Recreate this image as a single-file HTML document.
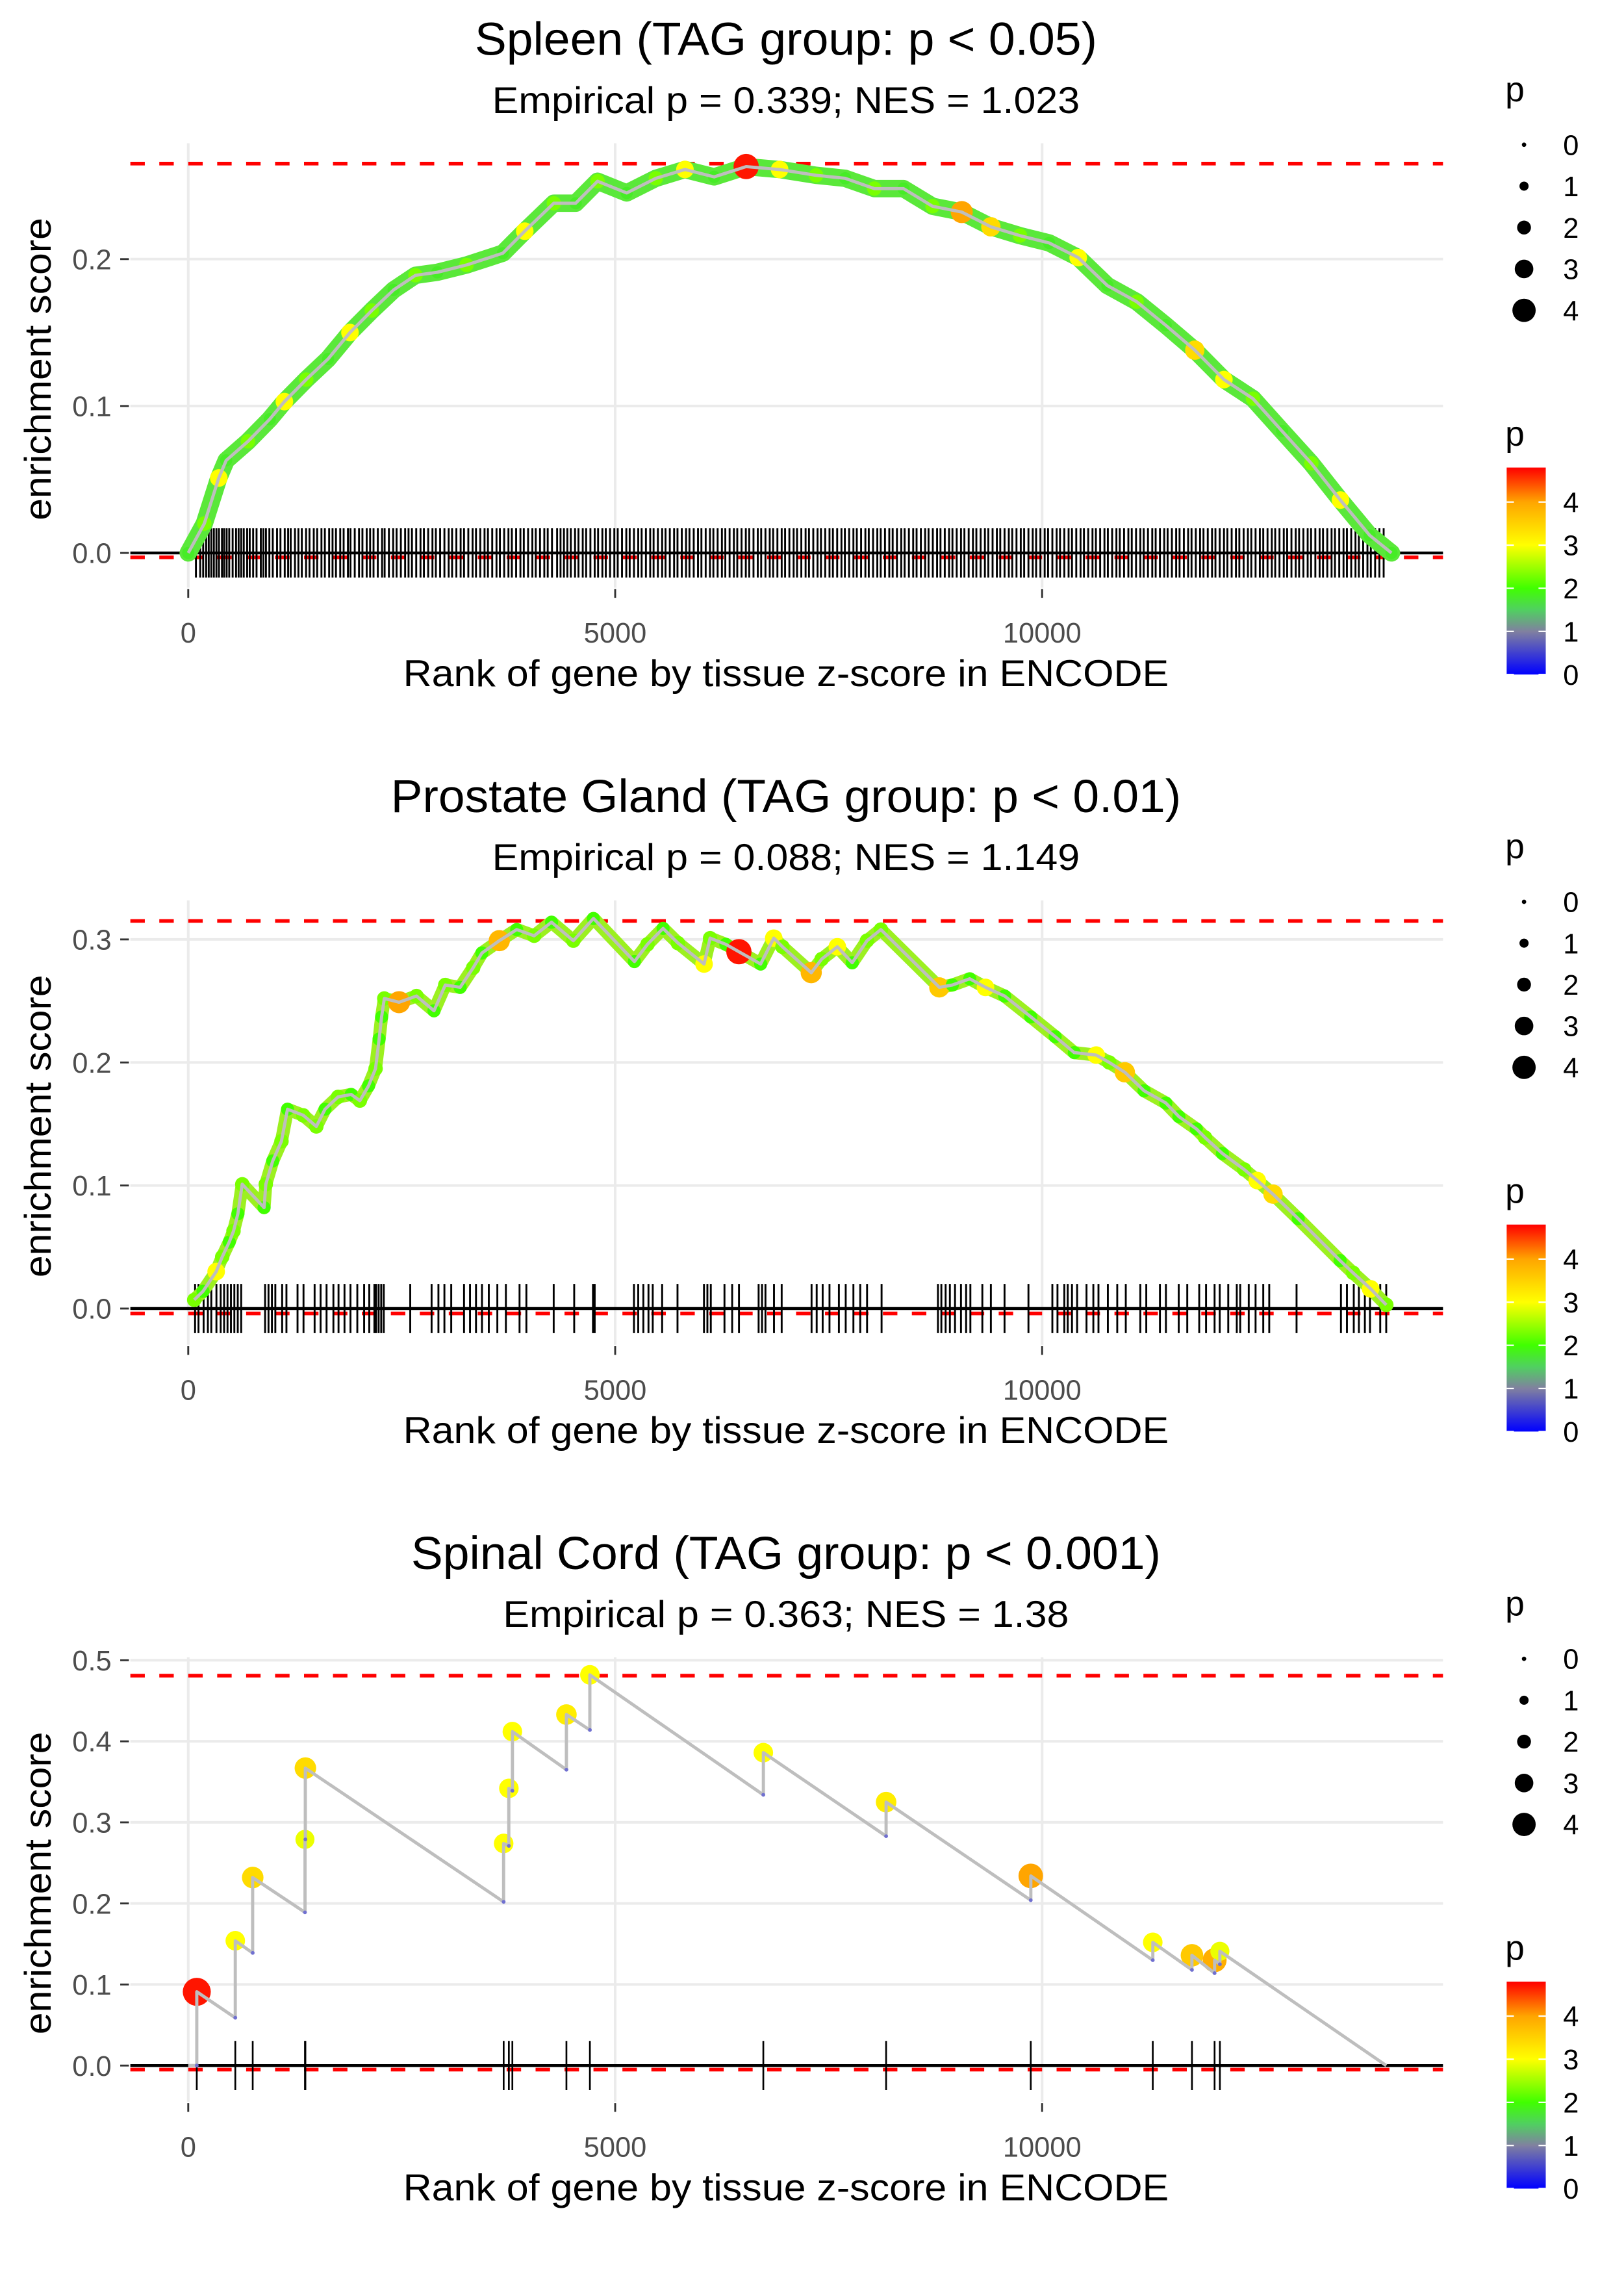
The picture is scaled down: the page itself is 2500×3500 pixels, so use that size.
<!DOCTYPE html>
<html><head><meta charset="utf-8"><style>
html,body{margin:0;padding:0;background:#fff;}
svg{display:block;font-family:"Liberation Sans",Arial,sans-serif;}
</style></head><body>
<svg id="chart" xmlns="http://www.w3.org/2000/svg" width="2500" height="3500" viewBox="0 0 1122 1571"></svg>
<script>
// ---------- Panel 1: Spleen ----------
const ranks1 = [0,188,358,444,700,955,1126,1382,1638,1894,2150,2405,2661,2917,3258,3685,3941,4282,4538,4794,5135,5476,5817,6159,6534,6926,7353,7694,8035,8377,8717,9059,9400,9741,10082,10423,10765,11106,11447,11788,12129,12470,12811,13153,13494,13835,14092];
const es1 = [0,0.020,0.051,0.063,0.076,0.091,0.103,0.118,0.132,0.150,0.165,0.179,0.189,0.191,0.196,0.204,0.219,0.238,0.238,0.253,0.245,0.255,0.261,0.256,0.263,0.261,0.257,0.255,0.248,0.248,0.236,0.232,0.222,0.216,0.211,0.201,0.182,0.171,0.155,0.138,0.118,0.105,0.083,0.061,0.036,0.012,0.0];
const p1 = [1.8,2.3,3.0,1.8,2.3,1.8,3.0,2.3,1.8,3.0,2.3,1.8,2.3,1.8,2.3,1.8,3.0,2.3,1.8,2.3,1.8,2.3,3.0,1.8,4.7,3.0,2.3,1.8,2.3,1.8,2.3,4.0,3.4,2.3,1.8,3.0,1.8,2.3,1.8,3.4,3.0,2.3,1.8,2.3,3.0,1.8,1.8];
const rug1 = [90,140,175,210,240,270,300,330,360,395,420,450,480,520,560,590,620,650,690,720,760,800,850,880,910,950,990,1040,1080,1130,1170,1200,1250,1290,1330,1380,1420,1470,1510,1560,1600,1650,1690,1730,1780,1820,1870,1900,1950,2000,2040,2090,2130,2170,2220,2270,2300,2350,2400,2440,2490,2540,2580,2620,2670,2720,2760,2810,2860,2900,2950,3000,3050,3090,3140,3190,3230,3280,3330,3370,3420,3470,3510,3560,3610,3650,3700,3750,3790,3840,3890,3930,3980,4030,4070,4120,4170,4210,4260,4320,4360,4400,4440,4480,4530,4570,4620,4660,4710,4760,4800,4850,4890,4940,4990,5030,5080,5130,5170,5220,5270,5310,5360,5410,5450,5500,5550,5590,5640,5690,5730,5780,5830,5870,5920,5970,6010,6060,6110,6150,6200,6250,6290,6340,6390,6430,6480,6530,6570,6620,6670,6710,6760,6810,6850,6900,6950,6990,7040,7090,7130,7180,7230,7270,7320,7370,7410,7460,7510,7550,7600,7650,7690,7740,7790,7830,7880,7930,7970,8020,8070,8110,8160,8210,8250,8300,8350,8390,8440,8490,8530,8580,8630,8670,8720,8770,8810,8860,8910,8950,9000,9050,9090,9140,9190,9230,9280,9330,9370,9420,9470,9510,9560,9610,9650,9700,9750,9790,9840,9890,9930,9980,10030,10070,10120,10170,10210,10260,10310,10350,10400,10450,10490,10540,10590,10630,10680,10730,10770,10820,10870,10910,10960,11010,11050,11100,11150,11190,11240,11290,11330,11380,11430,11470,11520,11570,11610,11660,11710,11750,11800,11850,11890,11940,11990,12030,12080,12130,12170,12220,12270,12310,12360,12410,12450,12500,12550,12590,12640,12690,12730,12780,12830,12870,12920,12970,13010,13060,13110,13150,13200,13250,13290,13340,13390,13430,13480,13530,13570,13620,13670,13710,13760,13810,13850,13900,13950,14000];

// ---------- Panel 2: Prostate Gland ----------
const ranks2 = [70,173,327,398,480,530,582,633,888,908,990,1092,1163,1347,1500,1602,1755,1908,2010,2112,2194,2235,2265,2296,2469,2673,2878,3010,3184,3337,3439,3643,3847,4051,4255,4510,4745,5225,5378,5561,5735,6041,6112,6296,6449,6704,6857,6959,7296,7418,7602,7776,7949,8112,8796,8949,9153,9337,9561,9867,10153,10377,10633,10786,10969,11194,11449,11602,11806,11908,12112,12367,12520,12704,13000,13490,13643,13847,14031];
const es2 = [0.007,0.014,0.030,0.042,0.054,0.063,0.077,0.101,0.082,0.101,0.120,0.136,0.162,0.157,0.148,0.162,0.172,0.174,0.169,0.181,0.195,0.219,0.237,0.252,0.249,0.254,0.242,0.263,0.261,0.277,0.289,0.299,0.308,0.303,0.314,0.299,0.317,0.282,0.296,0.309,0.297,0.280,0.301,0.296,0.290,0.280,0.301,0.294,0.273,0.284,0.294,0.281,0.299,0.308,0.261,0.263,0.268,0.261,0.254,0.237,0.221,0.208,0.206,0.200,0.192,0.177,0.167,0.156,0.146,0.139,0.126,0.113,0.104,0.093,0.073,0.039,0.029,0.016,0.003];
const p2 = [2.3,2.0,3.0,2.3,2.0,2.3,2.0,2.3,2.0,2.3,2.0,2.3,2.0,2.3,2.3,2.0,2.3,2.0,2.3,2.0,2.3,2.0,2.0,2.3,4.0,2.3,2.0,2.3,2.0,2.3,2.0,3.8,2.0,2.3,2.0,2.3,2.0,2.0,2.3,2.0,2.3,3.0,2.3,2.0,4.7,2.0,3.0,2.3,3.8,2.3,3.0,2.0,2.3,2.3,3.6,2.0,2.0,3.0,2.0,2.0,2.0,2.0,3.0,2.3,3.6,2.0,2.0,2.0,2.0,2.3,2.0,2.3,3.0,3.4,2.0,2.0,2.3,3.0,2.3];
const rug2 = [80,120,180,230,270,330,380,420,460,500,540,580,620,900,940,980,1020,1100,1150,1280,1350,1480,1550,1620,1700,1760,1830,1900,1980,2060,2120,2180,2200,2230,2260,2290,2600,2850,2930,3000,3080,3230,3300,3370,3440,3520,3620,3720,3880,3960,4280,4520,4740,4760,5220,5270,5330,5390,5440,5550,5730,6040,6080,6120,6280,6370,6450,6680,6720,6760,6860,6950,7300,7360,7430,7510,7620,7700,7790,7870,7950,8120,8780,8820,8870,8920,8980,9050,9110,9160,9300,9400,9560,9840,10120,10180,10260,10300,10350,10410,10520,10600,10660,10770,10880,10980,11150,11220,11380,11450,11600,11700,11840,11920,12020,12080,12180,12280,12320,12420,12500,12590,12660,12980,13500,13570,13650,13710,13780,13840,13960,14030];

// ---------- Panel 3: Spinal Cord ----------
const ranks3 = [100,551,755,1367,1372,3694,3755,3796,4429,4704,6735,8173,9867,11296,11755,12020,12082];
const before3 = [0,0.059,0.139,0.189,0.279,0.202,0.271,0.339,0.365,0.414,0.334,0.283,0.204,0.130,0.118,0.114,0.125];
const after3 = [0.091,0.154,0.232,0.279,0.367,0.274,0.342,0.412,0.433,0.482,0.386,0.325,0.234,0.152,0.136,0.130,0.141];
const p3 = [4.7,3.0,3.4,2.9,3.4,3.0,3.0,3.0,3.2,3.0,3.0,3.2,4.0,3.0,3.6,3.9,2.9];
const endRank3 = 14031;

// ---------- shared ----------
const xTicks = [0,5000,10000];
const legendSizes = [0,1,2,3,4];
const legendColorTicks = [0,1,2,3,4];

const NS = "http://www.w3.org/2000/svg";
const svg = document.getElementById('chart');
function mk(tag, attrs, parent){ const e=document.createElementNS(NS,tag); for(const k in attrs) e.setAttribute(k,attrs[k]); (parent||svg).appendChild(e); return e; }

const stops = [[0,[0,0,255]],[1,[128,128,160]],[1.5,[80,208,96]],[2,[64,255,0]],[3,[255,255,0]],[4,[255,165,0]],[4.8,[255,0,0]]];
function pColor(p){
  if(p<=stops[0][0]) return 'rgb('+stops[0][1].join(',')+')';
  for(let i=1;i<stops.length;i++){
    if(p<=stops[i][0]){
      const a=stops[i-1], b=stops[i], t=(p-a[0])/(b[0]-a[0]);
      const c=a[1].map((v,j)=>Math.round(v+(b[1][j]-v)*t));
      return 'rgb('+c.join(',')+')';
    }
  }
  return 'rgb(255,0,0)';
}
function pRadius(p){ return 1.6 + 1.72*p; }

const X0 = 130, XPER = 295/5000, PL = 90, PR = 997;
function xs(r){ return X0 + r*XPER; }

const panels = [
  {off:0, y0:382, per:1015, yticks:[0,0.1,0.2], esMax:0.265, esMin:-0.003,
   title:"Spleen (TAG group: p < 0.05)", tl:430, sub:"Empirical p = 0.339; NES = 1.023", sl:406, name:'spleen'},
  {off:523, y0:904, per:850, yticks:[0,0.1,0.2,0.3], esMax:0.315, esMin:-0.004,
   title:"Prostate Gland (TAG group: p < 0.01)", tl:546, sub:"Empirical p = 0.088; NES = 1.149", sl:406, name:'prostate'},
  {off:1046, y0:1427, per:560, yticks:[0,0.1,0.2,0.3,0.4,0.5], esMax:0.481, esMin:-0.005,
   title:"Spinal Cord (TAG group: p < 0.001)", tl:518, sub:"Empirical p = 0.363; NES = 1.38", sl:391, name:'spinal-cord'}
];

const defs = mk('defs',{});
const grad = mk('linearGradient',{id:'pgrad',x1:'0',y1:'1',x2:'0',y2:'0'},defs);
stops.forEach(s=>{ mk('stop',{offset:(s[0]/4.8).toFixed(3),'stop-color':'rgb('+s[1].join(',')+')'},grad); });

panels.forEach((P,pi)=>{
  const g = mk('g',{});
  
  
  const ys = v => P.y0 - v*P.per;
  const top = 99+P.off, bot = 406+P.off;
  P.yticks.forEach(t=>{
    const l = mk('line',{x1:PL,x2:PR,y1:ys(t),y2:ys(t),stroke:'#ebebeb','stroke-width':1.8},g);
    
    
  });
  xTicks.forEach(t=>{
    const l = mk('line',{x1:xs(t),x2:xs(t),y1:top,y2:bot,stroke:'#ebebeb','stroke-width':1.8},g);
    
    
  });
  P.yticks.forEach(t=>{
    const tk = mk('line',{x1:83,x2:89,y1:ys(t),y2:ys(t),stroke:'#333','stroke-width':1.3},g);
    
    
    const tx = mk('text',{x:77,y:ys(t)+7,'text-anchor':'end','font-size':19.5,fill:'#4d4d4d'},g);
    tx.textContent = t.toFixed(1);
    
    
  });
  xTicks.forEach(t=>{
    const tk = mk('line',{x1:xs(t),x2:xs(t),y1:bot+1,y2:bot+7,stroke:'#333','stroke-width':1.3},g);
    
    
    const tx = mk('text',{x:xs(t),y:444+P.off,'text-anchor':'middle','font-size':19.5,fill:'#4d4d4d'},g);
    tx.textContent = String(t);
    
    
  });
  const ti = mk('text',{x:543,y:38+P.off,'text-anchor':'middle','font-size':32,fill:'#000',textLength:P.tl,lengthAdjust:'spacingAndGlyphs'},g);
  ti.textContent = P.title;
  
  
  const st = mk('text',{x:543,y:78+P.off,'text-anchor':'middle','font-size':26,fill:'#000',textLength:P.sl,lengthAdjust:'spacingAndGlyphs'},g);
  st.textContent = P.sub;
  
  
  const xt = mk('text',{x:543,y:474+P.off,'text-anchor':'middle','font-size':26,fill:'#000',textLength:529,lengthAdjust:'spacingAndGlyphs'},g);
  xt.textContent = 'Rank of gene by tissue z-score in ENCODE';
  
  
  const cy = 255+P.off;
  const yt = mk('text',{x:0,y:0,'text-anchor':'middle','font-size':26,fill:'#000',textLength:209,lengthAdjust:'spacingAndGlyphs',transform:'translate(35,'+cy+') rotate(-90)'},g);
  yt.textContent = 'enrichment score';
  
  

  const lt = mk('text',{x:1040,y:70+P.off,'font-size':24,fill:'#000'},g);
  lt.textContent='p';
  
  
  legendSizes.forEach((s,i)=>{
    const yy = 100+28.6*i+P.off;
    const c = mk('circle',{cx:1053,cy:yy,r:pRadius(s)*0.95,fill:'#000'},g);
    
    
    const t = mk('text',{x:1080,y:yy+7,'font-size':19.5,fill:'#000'},g);
    t.textContent=String(s);
    
    
  });
  const ct = mk('text',{x:1040,y:308+P.off,'font-size':24,fill:'#000'},g);
  ct.textContent='p';
  
  
  const cb = mk('rect',{x:1041,y:323+P.off,width:27,height:143,fill:'url(#pgrad)'},g);
  
  
  legendColorTicks.forEach(v=>{
    const yy = 323+P.off + 143*(1 - v/4.8);
    mk('line',{x1:1041,x2:1046,y1:yy,y2:yy,stroke:'#fff','stroke-width':1},g);
    mk('line',{x1:1063,x2:1068,y1:yy,y2:yy,stroke:'#fff','stroke-width':1},g);
    const t = mk('text',{x:1080,y:yy+7,'font-size':19.5,fill:'#000'},g);
    t.textContent=String(v);
    
    
  });

  const zl = mk('line',{x1:PL,x2:PR,y1:ys(0),y2:ys(0),stroke:'#000','stroke-width':2},g);
  
  
  [P.esMax,P.esMin].forEach((v,k)=>{
    const d = mk('line',{x1:PL,x2:PR,y1:ys(v),y2:ys(v),stroke:'#ff0000','stroke-width':2.5,'stroke-dasharray':'10 10'},g);
    
    
  });

  let rug, ptsR, ptsE, ptsP;
  if(pi===0){ rug=rug1; ptsR=ranks1; ptsE=es1; ptsP=p1; }
  else if(pi===1){ rug=rug2; ptsR=ranks2; ptsE=es2; ptsP=p2; }
  else { rug=ranks3; }
  rug.forEach(r=>{
    const l = mk('line',{x1:xs(r),x2:xs(r),y1:ys(0)-17,y2:ys(0)+17,stroke:'#000','stroke-width':pi===2?1.2:1.3},g);
    
    
  });

  if(pi<2){
    const d = ptsR.map((r,i)=>(i?'L':'M')+xs(r).toFixed(1)+','+ys(ptsE[i]).toFixed(1)).join(' ');
    const band = mk('path',{d:d,fill:'none',stroke:pi===0?'#5ae83a':'#9cf020','stroke-width':pi===0?12:9,'stroke-linejoin':'round','stroke-linecap':'round'},g);
    
    
    ptsR.forEach((r,i)=>{
      const c = mk('circle',{cx:xs(r),cy:ys(ptsE[i]),r:pRadius(ptsP[i])*0.9,fill:pColor(ptsP[i])},g);
      
      
    });
    const ln = mk('path',{d:d,fill:'none',stroke:'#bebebe','stroke-width':2.2,'stroke-linejoin':'round'},g);
    
    
  } else {
    let d = 'M'+xs(0)+','+ys(0);
    ranks3.forEach((r,i)=>{ d += ' L'+xs(r).toFixed(1)+','+ys(before3[i]).toFixed(1)+' L'+xs(r).toFixed(1)+','+ys(after3[i]).toFixed(1); });
    d += ' L'+xs(endRank3).toFixed(1)+','+ys(0);
    ranks3.forEach((r,i)=>{
      const c = mk('circle',{cx:xs(r),cy:ys(after3[i]),r:pRadius(p3[i]),fill:pColor(p3[i])},g);
      
      
    });
    const ln = mk('path',{d:d,fill:'none',stroke:'#bebebe','stroke-width':2.2,'stroke-linejoin':'round'},g);
    
    
    ranks3.forEach((r,i)=>{
      const c = mk('circle',{cx:xs(r),cy:ys(before3[i]),r:1.3,fill:'#7070d0'},g);
      
      
    });
  }
});
</script>
</body></html>
